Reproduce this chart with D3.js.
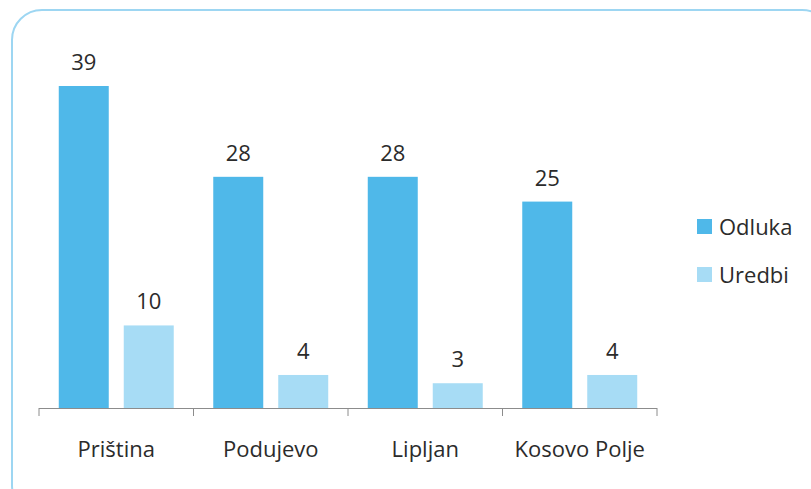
<!DOCTYPE html>
<html>
<head>
<meta charset="utf-8">
<script src="https://cdn.jsdelivr.net/npm/d3@7"></script>
<style>
  body { margin: 0; background: #fff; }
  svg { display: block; font-family: "Open Sans", sans-serif; }
</style>
</head>
<body>
<svg id="chart" width="811" height="489"></svg>
<script>
var categories = ["Priština", "Podujevo", "Lipljan", "Kosovo Polje"];
var seriesNames = ["Odluka", "Uredbi"];
var odluka = [39, 28, 28, 25];
var uredbi = [10, 4, 3, 4];
var colors = ["#4fb8e9", "#a7dcf5"];

var svg = d3.select("#chart");
var fs = 22;

// rounded frame, runs off the right and bottom edge
svg.append("rect")
    .attr("x", 12).attr("y", 10)
    .attr("width", 820).attr("height", 505)
    .attr("rx", 30).attr("ry", 30)
    .attr("fill", "none")
    .attr("stroke", "#9dd6f2")
    .attr("stroke-width", 2);

var plot = {left: 39, right: 657, base: 408};

var x0 = d3.scaleBand().domain(categories).range([plot.left, plot.right]).padding(0);
var x1 = d3.scaleBand().domain(seriesNames).range([0, x0.bandwidth()])
    .paddingInner(0.2308).paddingOuter(0.304);
var y = d3.scaleLinear().domain([0, 39]).range([plot.base, 86]);

var data = categories.map(function(c, i){
    return {cat: c, vals: [
        {name: "Odluka", v: odluka[i], col: colors[0]},
        {name: "Uredbi", v: uredbi[i], col: colors[1]}
    ]};
});

var groups = svg.append("g").selectAll("g")
    .data(data).enter().append("g")
    .attr("transform", function(d){ return "translate(" + x0(d.cat) + ",0)"; });

groups.selectAll("rect")
    .data(function(d){ return d.vals; })
    .enter().append("rect")
      .attr("x", function(d){ return x1(d.name); })
      .attr("y", function(d){ return y(d.v); })
      .attr("width", x1.bandwidth())
      .attr("height", function(d){ return plot.base - y(d.v); })
      .attr("fill", function(d){ return d.col; });

groups.selectAll("text")
    .data(function(d){ return d.vals; })
    .enter().append("text")
      .attr("x", function(d){ return x1(d.name) + x1.bandwidth()/2; })
      .attr("y", function(d){ return y(d.v) - 16; })
      .attr("text-anchor", "middle")
      .attr("font-size", fs)
      .attr("fill", "#2b2b2b")
      .text(function(d){ return d.v; });

// axis
var axis = svg.append("g")
    .attr("transform", "translate(0," + plot.base + ")")
    .call(d3.axisBottom(x0).tickSize(0).tickPadding(33));
axis.select(".domain").attr("stroke", "#8c8c8c").attr("d", "M" + plot.left + ",0.5H" + plot.right);
axis.selectAll("text").attr("font-size", fs).attr("fill", "#2b2b2b")
    .attr("font-family", "Open Sans, sans-serif");

var edges = categories.map(function(c){ return x0(c); }).concat([plot.right]);
svg.append("g").selectAll("line")
    .data(edges).enter().append("line")
      .attr("x1", function(d){ return d; }).attr("x2", function(d){ return d; })
      .attr("y1", plot.base).attr("y2", plot.base + 8)
      .attr("stroke", "#8c8c8c");

// legend
var legend = svg.append("g").selectAll("g")
    .data(seriesNames).enter().append("g")
    .attr("transform", function(d, i){ return "translate(697," + (219 + i*48) + ")"; });
legend.append("rect")
    .attr("width", 15).attr("height", 15)
    .attr("fill", function(d, i){ return colors[i]; });
legend.append("text")
    .attr("x", 22).attr("y", 16)
    .attr("font-size", fs)
    .attr("fill", "#2b2b2b")
    .text(function(d){ return d; });
</script>
</body>
</html>
